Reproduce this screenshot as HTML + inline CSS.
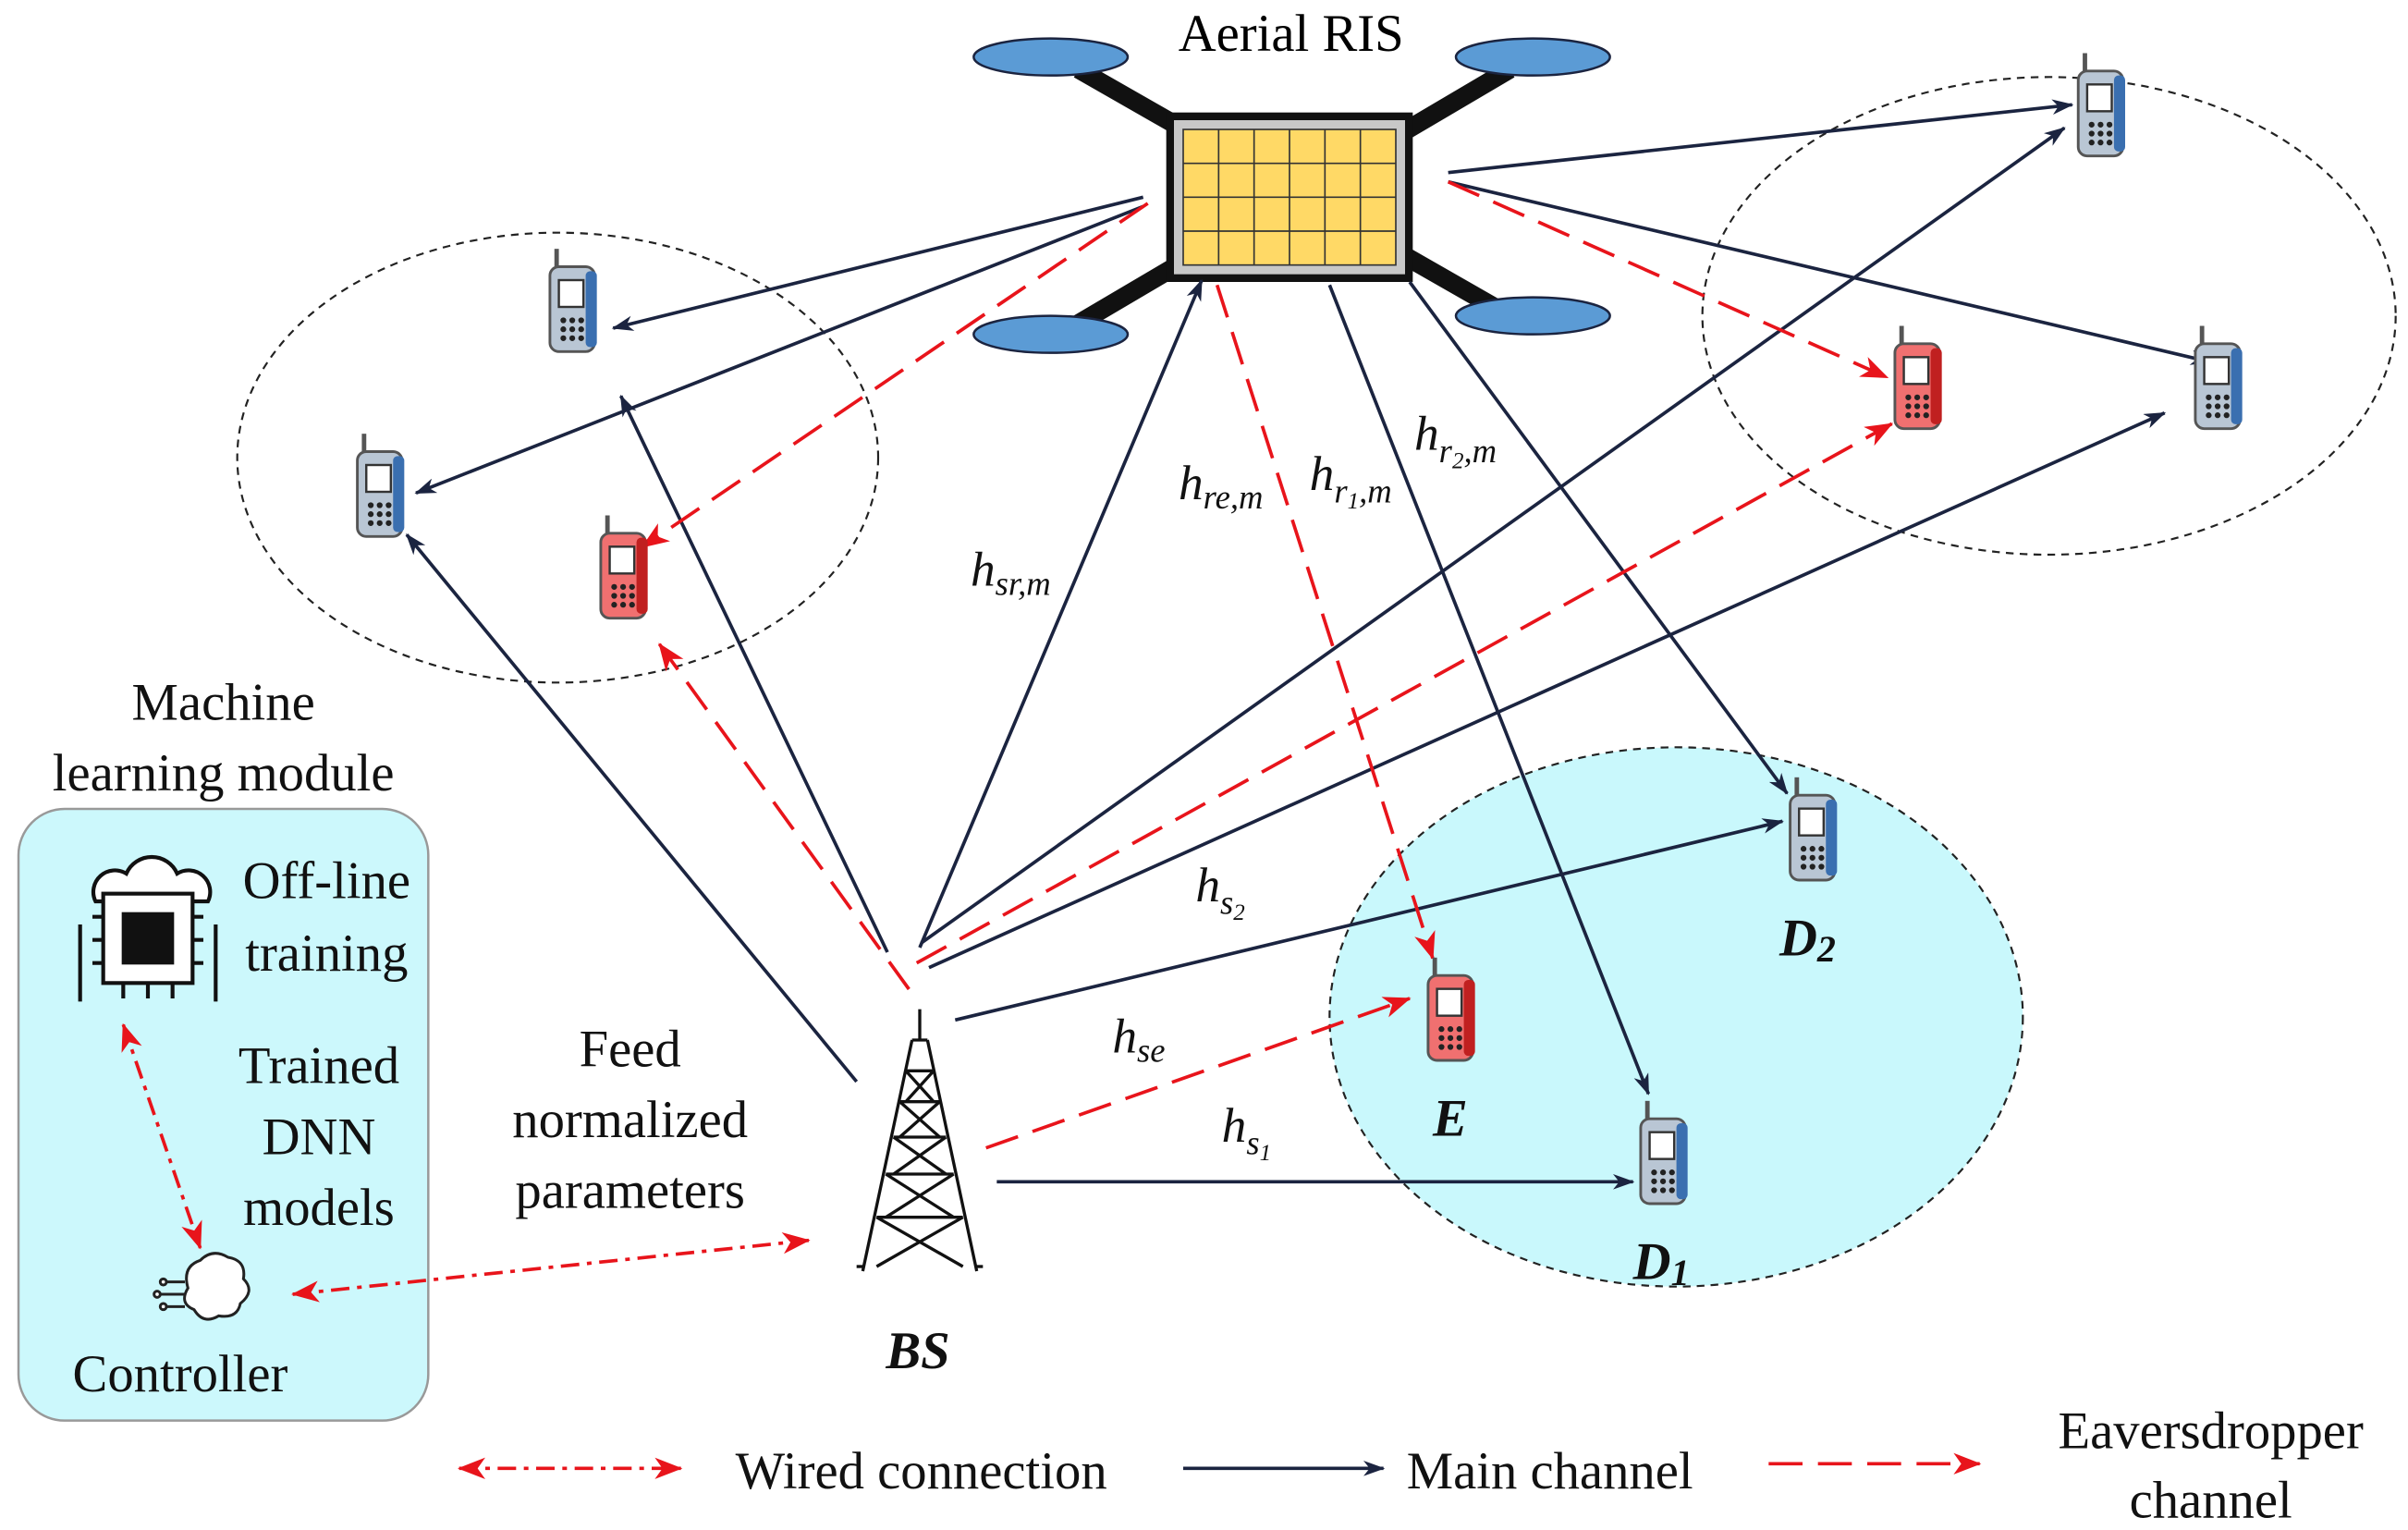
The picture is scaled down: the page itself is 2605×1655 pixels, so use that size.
<!DOCTYPE html>
<html><head><meta charset="utf-8"><style>
html,body{margin:0;padding:0;background:#fff}
svg{display:block}
text{font-family:"Liberation Serif",serif}
</style></head><body>
<svg width="2605" height="1655" viewBox="0 0 1563 993" xmlns="http://www.w3.org/2000/svg">
<defs>
<marker id="ab" markerWidth="14" markerHeight="10" refX="13" refY="5" orient="auto" markerUnits="userSpaceOnUse"><path d="M0,0 L14,5 L0,10 L4,5 z" fill="#1b2440"/></marker>
<marker id="ar" markerWidth="18" markerHeight="14" refX="17" refY="7" orient="auto" markerUnits="userSpaceOnUse"><path d="M0,0 L18,7 L0,14 L5,7 z" fill="#e8141b"/></marker>
<marker id="ars" markerWidth="18" markerHeight="14" refX="1" refY="7" orient="auto" markerUnits="userSpaceOnUse"><path d="M18,0 L0,7 L18,14 L13,7 z" fill="#e8141b"/></marker>
<g id="ph0"><rect x="-9" y="-22" width="20" height="38" rx="4" fill="#b9c6d4" stroke="#555" stroke-width="1.2"/><rect x="7" y="-20" width="5" height="34" rx="2" fill="#3a6fb0"/><rect x="-5" y="-16" width="11" height="12" fill="#fff" stroke="#333" stroke-width="1"/><g fill="#222"><circle cx="-3" cy="2" r="1.3"/><circle cx="1" cy="2" r="1.3"/><circle cx="5" cy="2" r="1.3"/><circle cx="-3" cy="6" r="1.3"/><circle cx="1" cy="6" r="1.3"/><circle cx="5" cy="6" r="1.3"/><circle cx="-3" cy="10" r="1.3"/><circle cx="1" cy="10" r="1.3"/><circle cx="5" cy="10" r="1.3"/></g><line x1="-6" y1="-22" x2="-6" y2="-30" stroke="#555" stroke-width="2"/></g>
<g id="phr0"><rect x="-9" y="-22" width="20" height="38" rx="4" fill="#f07070" stroke="#555" stroke-width="1.2"/><rect x="7" y="-20" width="5" height="34" rx="2" fill="#c02020"/><rect x="-5" y="-16" width="11" height="12" fill="#fff" stroke="#333" stroke-width="1"/><g fill="#222"><circle cx="-3" cy="2" r="1.3"/><circle cx="1" cy="2" r="1.3"/><circle cx="5" cy="2" r="1.3"/><circle cx="-3" cy="6" r="1.3"/><circle cx="1" cy="6" r="1.3"/><circle cx="5" cy="6" r="1.3"/><circle cx="-3" cy="10" r="1.3"/><circle cx="1" cy="10" r="1.3"/><circle cx="5" cy="10" r="1.3"/></g><line x1="-6" y1="-22" x2="-6" y2="-30" stroke="#555" stroke-width="2"/></g>
<g id="ph"><use href="#ph0" transform="scale(1.45)"/></g>
<g id="phr"><use href="#phr0" transform="scale(1.45)"/></g>
</defs>

<ellipse cx="1088" cy="660" rx="225" ry="175" fill="#c9f8fc" stroke="#222" stroke-width="1.3" stroke-dasharray="5,4"/>
<ellipse cx="362" cy="297" rx="208" ry="146" fill="none" stroke="#222" stroke-width="1.3" stroke-dasharray="5,4"/>
<ellipse cx="1330" cy="205" rx="225" ry="155" fill="none" stroke="#222" stroke-width="1.3" stroke-dasharray="5,4"/>
<rect x="12" y="525" width="266" height="397" rx="30" fill="#ccf8fc" stroke="#999" stroke-width="1.5"/>

<g stroke="#111" stroke-width="12"><line x1="700" y1="45" x2="980" y2="205"/><line x1="980" y1="45" x2="700" y2="210"/></g>
<g fill="#5b9bd5" stroke="#1b2440" stroke-width="1.5">
<ellipse cx="682" cy="37" rx="50" ry="12"/><ellipse cx="995" cy="37" rx="50" ry="12"/><ellipse cx="682" cy="217" rx="50" ry="12"/><ellipse cx="995" cy="205" rx="50" ry="12"/></g>
<rect x="757" y="73" width="160" height="110" fill="#111"/>
<rect x="762" y="78" width="150" height="100" fill="#c8c8c8"/>
<rect x="768" y="84" width="138" height="88" fill="#ffd966" stroke="#333" stroke-width="1"/>
<g stroke="#333" stroke-width="1"><line x1="791" y1="84" x2="791" y2="172"/><line x1="814" y1="84" x2="814" y2="172"/><line x1="837" y1="84" x2="837" y2="172"/><line x1="860" y1="84" x2="860" y2="172"/><line x1="883" y1="84" x2="883" y2="172"/><line x1="768" y1="106" x2="906" y2="106"/><line x1="768" y1="128" x2="906" y2="128"/><line x1="768" y1="150" x2="906" y2="150"/></g>
<text x="838" y="33" font-size="34" text-anchor="middle">Aerial RIS</text>

<g stroke="#1b2440" stroke-width="2.2" fill="none" marker-end="url(#ab)">
<line x1="742" y1="128" x2="398" y2="213"/>
<line x1="742" y1="134" x2="270" y2="320"/>
<line x1="556" y1="702" x2="264" y2="347"/>
<line x1="576" y1="618" x2="403" y2="257"/>
<line x1="597" y1="615" x2="780" y2="182"/>
<line x1="598" y1="612" x2="1340" y2="83"/>
<line x1="603" y1="628" x2="1405" y2="268"/>
<line x1="940" y1="112" x2="1345" y2="68"/>
<line x1="940" y1="118" x2="1435" y2="235"/>
<line x1="863" y1="185" x2="1070" y2="710"/>
<line x1="915" y1="183" x2="1160" y2="515"/>
<line x1="620" y1="662" x2="1157" y2="533"/>
<line x1="647" y1="767" x2="1060" y2="767"/>
</g>
<g stroke="#e8141b" stroke-width="2.2" fill="none" stroke-dasharray="22,10" marker-end="url(#ar)">
<line x1="745" y1="132" x2="417" y2="355"/>
<line x1="590" y1="642" x2="428" y2="418"/>
<line x1="790" y1="185" x2="930" y2="622"/>
<line x1="940" y1="118" x2="1225" y2="245"/>
<line x1="595" y1="625" x2="1228" y2="275"/>
<line x1="640" y1="745" x2="915" y2="648"/>
</g>
<g stroke="#e8141b" stroke-width="2.2" fill="none" stroke-dasharray="12,5,3,5" marker-end="url(#ar)" marker-start="url(#ars)">
<line x1="190" y1="840" x2="525" y2="805"/>
<line x1="80" y1="665" x2="130" y2="810"/>
<line x1="298" y1="953" x2="442" y2="953"/>
</g>
<line x1="768" y1="953" x2="898" y2="953" stroke="#1b2440" stroke-width="2.2" marker-end="url(#ab)"/>
<line x1="1148" y1="950" x2="1285" y2="950" stroke="#e8141b" stroke-width="2.2" stroke-dasharray="22,10" marker-end="url(#ar)"/>

<use href="#ph" x="370" y="205"/><use href="#ph" x="245" y="325"/><use href="#phr" x="403" y="378"/>
<use href="#ph" x="1362" y="78"/><use href="#ph" x="1438" y="255"/><use href="#phr" x="1243" y="255"/>
<use href="#ph" x="1175" y="548"/><use href="#phr" x="940" y="665"/><use href="#ph" x="1078" y="758"/>

<g stroke="#111" stroke-width="2" fill="none">
<line x1="597" y1="655" x2="597" y2="675"/>
<path d="M592,675 L560,825 M602,675 L634,825 M592,675 L602,675"/>
<path d="M588,695 L606,715 M606,695 L588,715 M584,715 L610,738 M610,715 L584,738 M580,738 L614,762 M614,738 L580,762 M575,762 L619,790 M619,762 L575,790 M569,790 L625,822 M625,790 L569,822"/>
<path d="M588,695 H606 M584,715 H610 M580,738 H614 M575,762 H619 M569,790 H625"/>
<line x1="556" y1="822" x2="560" y2="822"/><line x1="634" y1="822" x2="638" y2="822"/>
</g>

<g stroke="#111" stroke-width="2.5" fill="none">
<path d="M62,585 a14,14 0 0 1 20,-18 a18,18 0 0 1 33,0 a14,14 0 0 1 20,18 z" fill="#fff"/>
<rect x="67" y="580" width="58" height="58" fill="#fff"/>
<path d="M60,595 h7 M60,610 h7 M60,625 h7 M125,595 h7 M125,610 h7 M125,625 h7 M80,638 v10 M96,638 v10 M112,638 v10 M52,600 v50 M140,600 v50"/>
</g>
<rect x="79" y="592" width="34" height="34" fill="#111"/>
<g stroke="#222" stroke-width="1.8" fill="#fff">
<path d="M130,818 q8,-8 18,-2 q12,2 10,14 q8,8 -2,16 q-2,10 -14,8 q-10,6 -16,-4 q-10,-4 -4,-14 q-4,-14 8,-18z"/>
<path d="M120,832 h-12 M120,840 h-16 M120,848 h-12" fill="none"/>
<circle cx="106" cy="832" r="2"/><circle cx="102" cy="840" r="2"/><circle cx="106" cy="848" r="2"/>
</g>

<g font-size="34" text-anchor="middle" fill="#111">
<text x="145" y="467">Machine</text><text x="145" y="513">learning module</text>
<text x="212" y="583">Off-line</text><text x="212" y="630">training</text>
<text x="207" y="703">Trained</text><text x="207" y="749">DNN</text><text x="207" y="795">models</text>
<text x="117" y="903">Controller</text>
<text x="409" y="692">Feed</text><text x="409" y="738">normalized</text><text x="409" y="784">parameters</text>
<text x="598" y="966">Wired connection</text><text x="1006" y="966">Main channel</text>
<text x="1435" y="940">Eaversdropper</text><text x="1435" y="985">channel</text>
</g>
<g font-size="32" font-style="italic" fill="#111">
<text x="630" y="380">h<tspan font-size="22" dy="6">sr,m</tspan></text>
<text x="765" y="324">h<tspan font-size="22" dy="6">re,m</tspan></text>
<text x="850" y="318">h<tspan font-size="22" dy="8">r</tspan><tspan font-size="15" dy="4">1</tspan><tspan font-size="22" dy="-4">,m</tspan></text>
<text x="918" y="292">h<tspan font-size="22" dy="8">r</tspan><tspan font-size="15" dy="4">2</tspan><tspan font-size="22" dy="-4">,m</tspan></text>
<text x="776" y="585">h<tspan font-size="22" dy="8">s</tspan><tspan font-size="15" dy="4">2</tspan></text>
<text x="722" y="683">h<tspan font-size="22" dy="6">se</tspan></text>
<text x="793" y="741">h<tspan font-size="22" dy="8">s</tspan><tspan font-size="15" dy="4">1</tspan></text>
</g>
<g font-size="34" font-style="italic" font-weight="bold" fill="#111">
<text x="1155" y="620">D<tspan font-size="24" dy="4">2</tspan></text>
<text x="930" y="737">E</text>
<text x="1060" y="830">D<tspan font-size="24" dy="4">1</tspan></text>
<text x="575" y="888">BS</text>
</g>
</svg>
</body></html>
